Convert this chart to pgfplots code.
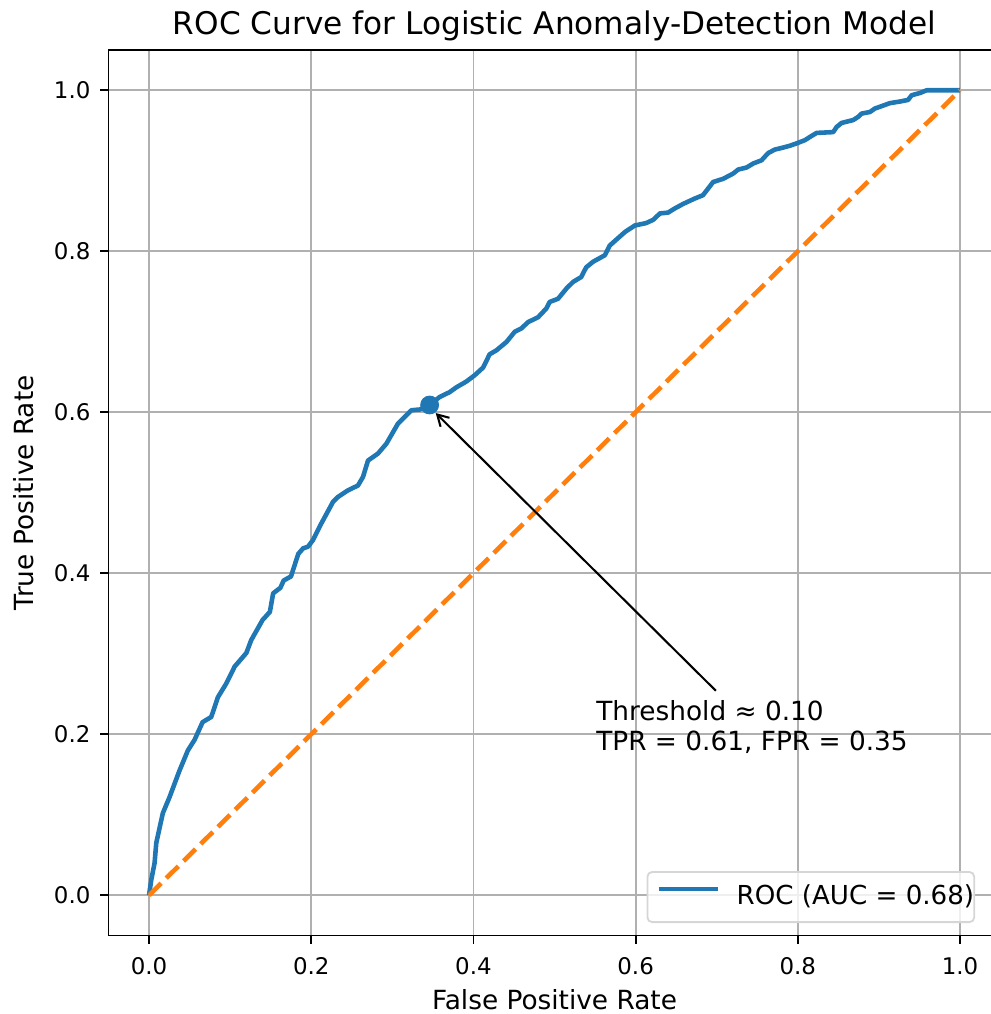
\documentclass[border=0pt]{standalone}
\usepackage{fontspec}
\setmainfont{DejaVu Sans}
\usepackage{pgfplots}
\pgfplotsset{compat=1.18}
\usetikzlibrary{arrows.meta, calc}

\definecolor{mplblue}{HTML}{1F77B4}
\definecolor{mplorange}{HTML}{FF7F0E}
\definecolor{mplgrid}{HTML}{B0B0B0}
\definecolor{legendedge}{HTML}{D6D6D6}

\begin{document}
\begin{tikzpicture}
  \begin{axis}[
    name=ax,
    scale only axis,
    width=389.24pt, height=386.4pt,
    xmin=-0.05, xmax=1.05,
    ymin=-0.05, ymax=1.05,
    xtick={0,0.2,0.4,0.6,0.8,1},
    ytick={0,0.2,0.4,0.6,0.8,1},
    xtick pos=bottom, ytick pos=left,
    tick align=outside,
    major tick length=3.5pt,
    tick style={line width=0.8pt, black},
    axis line style={line width=0.8pt, black},
    grid=major,
    grid style={line width=0.8pt, mplgrid},
    /pgf/number format/assume math mode=true,
    /pgf/number format/.cd, fixed, fixed zerofill, precision=1,
    /pgfplots/.cd,
    tick label style={font=\fontsize{10}{12}\selectfont, inner sep=0pt},
    xticklabel style={anchor=north},
    yticklabel style={anchor=east},
    xticklabel shift=5.9pt,
    yticklabel shift=4.2pt,
    legend style={
      at={(1,0)}, anchor=south east, xshift=-11.1pt, yshift=5.45pt,
      draw=legendedge, line width=0.8pt, fill=white,
      fill opacity=0.8, draw opacity=1, text opacity=1,
      rounded corners=2pt,
      inner xsep=0pt, inner ysep=5.6pt,
      font=\fontsize{11.4}{13.7}\selectfont,
      nodes={inner sep=0pt, text depth=0.2em},
    },
    legend cell align=left,
    legend image code/.code={
      \draw[#1, line width=2pt, line cap=butt] (3.9pt,0.35em) -- (29.6pt,0.35em);
      \path (0pt,0pt) (36.9pt,0pt);
    },
  ]
    \addplot[mplblue, line width=2pt, line join=round, mark=none] coordinates {
      (0,0) (0.0027,0.019) (0.0068,0.040) (0.0089,0.065) (0.017,0.102)
      (0.0253,0.122) (0.0376,0.155) (0.0479,0.180) (0.0561,0.193) (0.066,0.215)
      (0.0767,0.2215) (0.0849,0.246) (0.0952,0.263) (0.1055,0.284) (0.120,0.301)
      (0.126,0.317) (0.140,0.342) (0.149,0.352) (0.153,0.375) (0.162,0.382)
      (0.166,0.391) (0.175,0.396) (0.184,0.424) (0.190,0.431) (0.196,0.433)
      (0.202,0.441) (0.2125,0.462) (0.2268,0.4886) (0.233,0.4948) (0.2453,0.503)
      (0.2576,0.509) (0.2638,0.5196) (0.270,0.540) (0.2823,0.5487) (0.2927,0.561)
      (0.307,0.586) (0.315,0.594) (0.3235,0.6025) (0.3337,0.6034) (0.346,0.609)
      (0.3584,0.619) (0.3707,0.625) (0.379,0.631) (0.391,0.638) (0.4016,0.646)
      (0.4119,0.6555) (0.420,0.672) (0.4284,0.677) (0.4407,0.6873) (0.451,0.700)
      (0.459,0.704) (0.4674,0.712) (0.4797,0.718) (0.490,0.729) (0.494,0.737)
      (0.5044,0.741) (0.5147,0.7537) (0.523,0.762) (0.533,0.768) (0.539,0.780)
      (0.5476,0.787) (0.562,0.795) (0.568,0.807) (0.578,0.816) (0.587,0.824)
      (0.599,0.832) (0.613,0.835) (0.6216,0.839) (0.630,0.847) (0.640,0.848)
      (0.648,0.853) (0.659,0.859) (0.673,0.8655) (0.683,0.8696) (0.6895,0.878)
      (0.6956,0.886) (0.708,0.890) (0.7203,0.8965) (0.7265,0.9015) (0.7368,0.904)
      (0.745,0.909) (0.7553,0.913) (0.7635,0.922) (0.7717,0.9263) (0.782,0.9288)
      (0.790,0.931) (0.7985,0.934) (0.8088,0.938) (0.815,0.942) (0.8232,0.947)
      (0.8437,0.948) (0.8479,0.9544) (0.854,0.9594) (0.8684,0.963) (0.8745,0.967)
      (0.8787,0.971) (0.889,0.973) (0.8951,0.9773) (0.9054,0.981) (0.9136,0.984)
      (0.926,0.986) (0.936,0.988) (0.9404,0.9938) (0.9507,0.9966) (0.959,1.0)
      (1.0,1.0)
    };
    \addlegendentry{ROC (AUC = 0.68)\hspace{4.5pt}}
    % chance line
    \addplot[mplorange, line width=2pt, dash pattern=on 7.4pt off 3.2pt, forget plot]
      coordinates {(0,0) (1,1)};
    % chosen threshold
    \addplot[only marks, mark=*, mark size=3.9pt, mplblue, forget plot]
      coordinates {(0.346,0.609)};
    \draw[line width=0.9pt, -{Straight Barb[length=4.8pt, width=5.5pt]}]
      (axis cs:0.699,0.254) -- (axis cs:0.3535,0.599);
    \node[anchor=base west, inner sep=0pt, font=\fontsize{11.5}{13.8}\selectfont]
      at (axis cs:0.551,0.2174) {Threshold ≈ 0.10};
    \node[anchor=base west, inner sep=0pt, font=\fontsize{11.5}{13.8}\selectfont]
      at (axis cs:0.551,0.180) {TPR = 0.61, FPR = 0.35};
  \end{axis}
  \node[anchor=base, font=\fontsize{13.6}{16}\selectfont]
    at ($(ax.north)+(0,6.85pt)$) {ROC Curve for Logistic Anomaly-Detection Model};
  \node[anchor=base, font=\fontsize{11.5}{13.8}\selectfont]
    at ($(ax.south)+(0,-32.5pt)$) {False Positive Rate};
  \node[anchor=base, rotate=90, font=\fontsize{11.5}{13.8}\selectfont]
    at ($(ax.west)+(-32.8pt,0)$) {True Positive Rate};
  \pgfresetboundingbox
  \path[use as bounding box] ($(ax.south west)+(-47.35pt,-34.25pt)$)
    rectangle ($(ax.north east)+(-4.58pt,21.82pt)$);
\end{tikzpicture}
\end{document}
